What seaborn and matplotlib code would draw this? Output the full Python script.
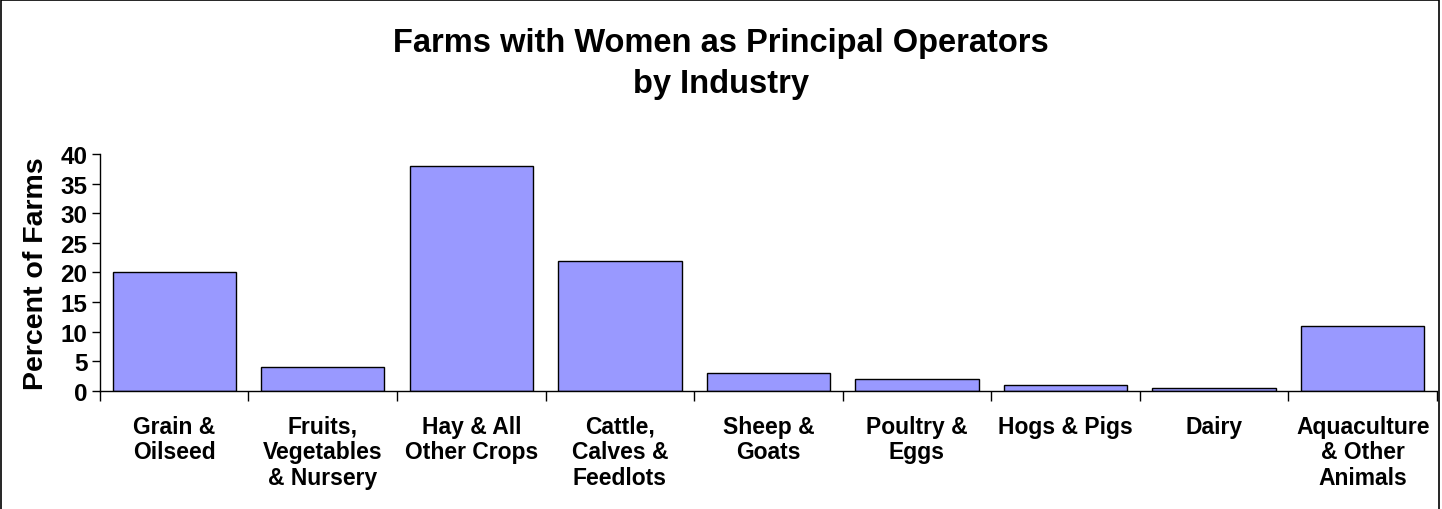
"""
Farms with Women as Principal Operators by Industry
"""
import numpy as np
import pandas as pd
import matplotlib
matplotlib.use('Agg')
import matplotlib.pyplot as plt
import matplotlib.patches as mpatches
import seaborn as sns

industries = ['Grain &\nOilseed', 'Fruits,\nVegetables\n& Nursery', 'Hay & All\nOther Crops',
              'Cattle,\nCalves &\nFeedlots', 'Sheep &\nGoats', 'Poultry &\nEggs', 'Hogs & Pigs',
              'Dairy', 'Aquaculture\n& Other\nAnimals']
percent_farms = [20, 4, 38, 22, 3, 2, 1, 0.5, 11]
y_ticks = [0, 5, 10, 15, 20, 25, 30, 35, 40]

sns.set_style('white')
plt.rcParams['font.family'] = ['Liberation Sans', 'DejaVu Sans']
plt.rcParams['text.color'] = 'black'
plt.rcParams['axes.labelcolor'] = 'black'
plt.rcParams['xtick.color'] = 'black'
plt.rcParams['ytick.color'] = 'black'

df = pd.DataFrame({'industry': industries, 'pct': percent_farms})

fig = plt.figure(figsize=(14.42, 5.10), dpi=100)
ax = fig.add_axes([0.0693, 0.2314, 0.9272, 0.4647])

sns.barplot(data=df, x='industry', y='pct', color='#9999FF', saturation=1,
            edgecolor='black', linewidth=1, width=0.83, ax=ax)

ax.set_xlim(-0.5, len(industries) - 0.5)
ax.set_ylim(0, 40)
ax.set_yticks(y_ticks)
ax.set_yticklabels([str(t) for t in y_ticks], fontsize=17.5, fontweight='bold')
ax.set_xticks(range(len(industries)))
ax.set_xticklabels(industries, fontsize=16.5, fontweight='bold', linespacing=1.15)
ax.set_xticks(np.arange(-0.5, len(industries)), minor=True)
ax.tick_params(axis='x', which='major', length=0, pad=17)
ax.tick_params(axis='x', which='minor', length=7, width=1, color='black', direction='out', bottom=True)
ax.tick_params(axis='y', length=6, width=1, color='black', direction='out', left=True, pad=3)

for s in ['top', 'right']:
    ax.spines[s].set_visible(False)
for s in ['left', 'bottom']:
    ax.spines[s].set_color('black')
    ax.spines[s].set_linewidth(1)

ax.set_xlabel('')
ax.set_ylabel('Percent of Farms', fontsize=20.5, fontweight='bold', labelpad=8)

fig.text(0.5, 0.874, 'Farms with Women as Principal Operators\nby Industry', ha='center', va='center',
         fontsize=23.5, fontweight='bold', linespacing=1.4)

# chart border
fig.patches.append(mpatches.Rectangle((0.001, -0.01), 0.997, 1.008, transform=fig.transFigure,
                                      fill=False, edgecolor='black', linewidth=1.2))

plt.savefig('out.png', dpi=100, facecolor='white')
plt.close()
